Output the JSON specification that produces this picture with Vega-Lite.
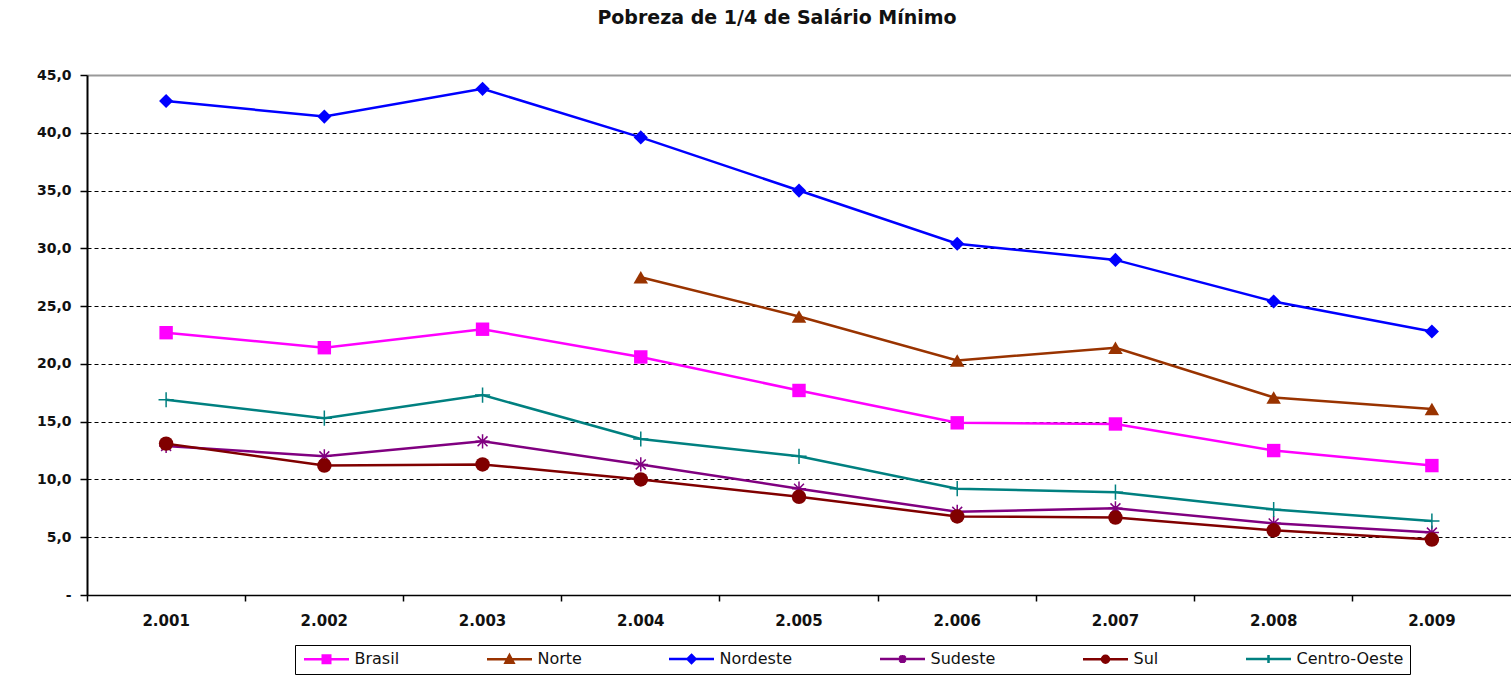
{
  "$schema": "https://vega.github.io/schema/vega-lite/v6.json",
  "autosize": {"type": "none"},
  "width": 1424,
  "height": 520,
  "padding": {"left": 87, "top": 75, "right": 0, "bottom": 80},
  "background": "white",
  "title": {"text": "Pobreza de 1/4 de Salário Mínimo", "font": "DejaVu Sans", "fontSize": 19, "fontWeight": "bold", "color": "#111", "anchor": "middle", "dx": -22, "offset": 40},
  "config": {
    "view": {"stroke": null},
    "font": "DejaVu Sans"
  },
  "data": {"values": [
    {"ano": "2.001", "regiao": "Brasil", "valor": 22.7},
    {"ano": "2.002", "regiao": "Brasil", "valor": 21.4},
    {"ano": "2.003", "regiao": "Brasil", "valor": 23.0},
    {"ano": "2.004", "regiao": "Brasil", "valor": 20.6},
    {"ano": "2.005", "regiao": "Brasil", "valor": 17.7},
    {"ano": "2.006", "regiao": "Brasil", "valor": 14.9},
    {"ano": "2.007", "regiao": "Brasil", "valor": 14.8},
    {"ano": "2.008", "regiao": "Brasil", "valor": 12.5},
    {"ano": "2.009", "regiao": "Brasil", "valor": 11.2},
    {"ano": "2.004", "regiao": "Norte", "valor": 27.5},
    {"ano": "2.005", "regiao": "Norte", "valor": 24.1},
    {"ano": "2.006", "regiao": "Norte", "valor": 20.3},
    {"ano": "2.007", "regiao": "Norte", "valor": 21.4},
    {"ano": "2.008", "regiao": "Norte", "valor": 17.1},
    {"ano": "2.009", "regiao": "Norte", "valor": 16.1},
    {"ano": "2.001", "regiao": "Nordeste", "valor": 42.75},
    {"ano": "2.002", "regiao": "Nordeste", "valor": 41.4},
    {"ano": "2.003", "regiao": "Nordeste", "valor": 43.8},
    {"ano": "2.004", "regiao": "Nordeste", "valor": 39.6},
    {"ano": "2.005", "regiao": "Nordeste", "valor": 35.0},
    {"ano": "2.006", "regiao": "Nordeste", "valor": 30.4},
    {"ano": "2.007", "regiao": "Nordeste", "valor": 29.0},
    {"ano": "2.008", "regiao": "Nordeste", "valor": 25.4},
    {"ano": "2.009", "regiao": "Nordeste", "valor": 22.8},
    {"ano": "2.001", "regiao": "Sudeste", "valor": 12.9},
    {"ano": "2.002", "regiao": "Sudeste", "valor": 12.0},
    {"ano": "2.003", "regiao": "Sudeste", "valor": 13.3},
    {"ano": "2.004", "regiao": "Sudeste", "valor": 11.3},
    {"ano": "2.005", "regiao": "Sudeste", "valor": 9.2},
    {"ano": "2.006", "regiao": "Sudeste", "valor": 7.2},
    {"ano": "2.007", "regiao": "Sudeste", "valor": 7.5},
    {"ano": "2.008", "regiao": "Sudeste", "valor": 6.2},
    {"ano": "2.009", "regiao": "Sudeste", "valor": 5.4},
    {"ano": "2.001", "regiao": "Sul", "valor": 13.1},
    {"ano": "2.002", "regiao": "Sul", "valor": 11.2},
    {"ano": "2.003", "regiao": "Sul", "valor": 11.3},
    {"ano": "2.004", "regiao": "Sul", "valor": 10.0},
    {"ano": "2.005", "regiao": "Sul", "valor": 8.5},
    {"ano": "2.006", "regiao": "Sul", "valor": 6.8},
    {"ano": "2.007", "regiao": "Sul", "valor": 6.7},
    {"ano": "2.008", "regiao": "Sul", "valor": 5.6},
    {"ano": "2.009", "regiao": "Sul", "valor": 4.8},
    {"ano": "2.001", "regiao": "Centro-Oeste", "valor": 16.9},
    {"ano": "2.002", "regiao": "Centro-Oeste", "valor": 15.3},
    {"ano": "2.003", "regiao": "Centro-Oeste", "valor": 17.3},
    {"ano": "2.004", "regiao": "Centro-Oeste", "valor": 13.5},
    {"ano": "2.005", "regiao": "Centro-Oeste", "valor": 12.0},
    {"ano": "2.006", "regiao": "Centro-Oeste", "valor": 9.2},
    {"ano": "2.007", "regiao": "Centro-Oeste", "valor": 8.9},
    {"ano": "2.008", "regiao": "Centro-Oeste", "valor": 7.4},
    {"ano": "2.009", "regiao": "Centro-Oeste", "valor": 6.4}
  ]},
  "encoding": {
    "x": {"field": "ano", "type": "nominal", "sort": ["2.001","2.002","2.003","2.004","2.005","2.006","2.007","2.008","2.009"],
      "scale": {"type": "band", "paddingInner": 0, "paddingOuter": 0},
      "axis": {"title": null, "bandPosition": 0, "labelAngle": 0, "labelFontSize": 15, "labelFontWeight": "bold", "labelColor": "#111", "labelPadding": 12,
        "domainColor": "#000", "domainWidth": 1.5, "tickColor": "#000", "tickSize": 6, "tickWidth": 1.5, "grid": false}},
    "y": {"field": "valor", "type": "quantitative",
      "scale": {"domain": [0, 45], "nice": false, "zero": true},
      "axis": {"title": null, "values": [0,5,10,15,20,25,30,35,40,45],
        "labelExpr": "datum.value == 0 ? '-' : replace(format(datum.value, '.1f'), '.', ',')",
        "labelFontSize": 14, "labelFontWeight": "bold", "labelColor": "#111", "labelPadding": 9,
        "domainColor": "#000", "domainWidth": 2, "tickColor": "#000", "tickSize": 7, "tickWidth": 1.5,
        "grid": true,
        "gridColor": {"condition": {"test": "datum.value == 45", "value": "#999"}, "value": "#000"},
        "gridDash": {"condition": {"test": "datum.value == 45", "value": []}, "value": [4, 3]},
        "gridWidth": {"condition": {"test": "datum.value == 45", "value": 2}, "value": 1}}}
  },
  "layer": [
    {
      "mark": {"type": "line", "strokeWidth": 2.5},
      "encoding": {
        "color": {"field": "regiao", "type": "nominal",
          "scale": {"domain": ["Brasil","Norte","Nordeste","Sudeste","Sul","Centro-Oeste"], "range": ["#FF00FF","#993300","#0000FF","#800080","#800000","#008080"]},
          "legend": {"title": null, "orient": "none", "legendX": 208, "legendY": 570, "direction": "horizontal",
            "strokeColor": "#000", "padding": 6, "fillColor": "white",
            "symbolSize": 100, "symbolOffset": 17.5, "labelOffset": 20, "columnPadding": 82,
            "labelFontSize": 16, "labelColor": "#111",
            "encoding": {"symbols": {
              "shape": {"value": {"expr": "datum.value == 'Brasil' ? 'M-4.5,0H4.5M-0.75,-0.75H0.75V0.75H-0.75Z' : datum.value == 'Norte' ? 'M-4.5,0H4.5M0,-0.8L0.8,0.7H-0.8Z' : datum.value == 'Nordeste' ? 'M-4.5,0H4.5M0,-0.8L0.8,0L0,0.8L-0.8,0Z' : datum.value == 'Sudeste' ? 'M-4.5,0H4.5M0,-0.8V0.8M-0.6,-0.6L0.6,0.6M-0.6,0.6L0.6,-0.6' : datum.value == 'Sul' ? 'M-4.5,0H4.5M-0.7,0A0.7,0.7 0 1,0 0.7,0A0.7,0.7 0 1,0 -0.7,0Z' : 'M-4.5,0H4.5M0,-0.8V0.8'"}},
              "fill": {"value": {"expr": "scale('color', datum.value)"}},
              "stroke": {"value": {"expr": "scale('color', datum.value)"}},
              "strokeWidth": {"value": 2.5},
              "opacity": {"value": 1}
            }}}
        }
      }
    },
    {"transform": [{"filter": "datum.regiao == 'Brasil'"}], "mark": {"type": "point", "shape": "square", "size": 180, "filled": true, "color": "#FF00FF", "opacity": 1}},
    {"transform": [{"filter": "datum.regiao == 'Norte'"}], "mark": {"type": "point", "shape": "triangle-up", "size": 210, "filled": true, "color": "#993300", "opacity": 1}},
    {"transform": [{"filter": "datum.regiao == 'Nordeste'"}], "mark": {"type": "point", "shape": "diamond", "size": 200, "filled": true, "color": "#0000FF", "opacity": 1}},
    {"transform": [{"filter": "datum.regiao == 'Sudeste'"}], "mark": {"type": "point", "shape": "M-1,0H1M0,-1V1M-0.7,-0.7L0.7,0.7M-0.7,0.7L0.7,-0.7", "size": 200, "filled": false, "strokeWidth": 1.5, "color": "#800080", "opacity": 1}},
    {"transform": [{"filter": "datum.regiao == 'Sul'"}], "mark": {"type": "point", "shape": "circle", "size": 210, "filled": true, "color": "#800000", "opacity": 1}},
    {"transform": [{"filter": "datum.regiao == 'Centro-Oeste'"}], "mark": {"type": "point", "shape": "M-1,0H1M0,-1V1", "size": 230, "filled": false, "strokeWidth": 1.5, "color": "#008080", "opacity": 1}}
  ]
}
